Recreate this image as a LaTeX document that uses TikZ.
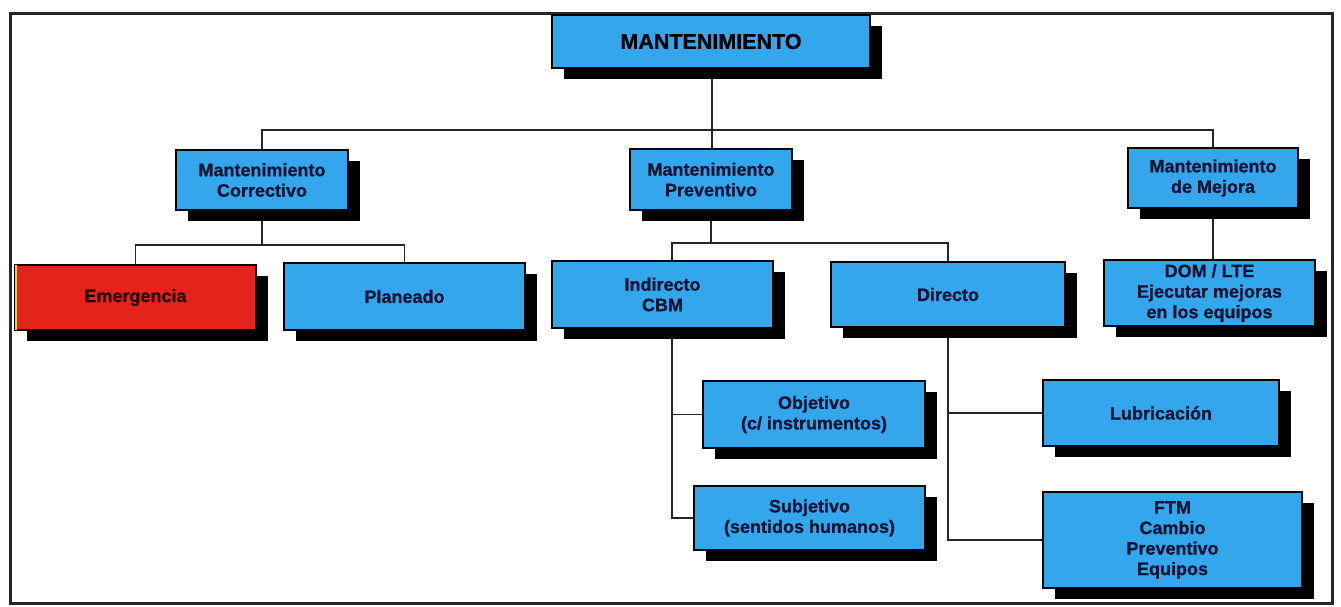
\documentclass[tikz,border=0pt]{standalone}
\usepackage{fontspec}
\setmainfont{Liberation Sans}[BoldFeatures={FakeBold=0.8}]
\usetikzlibrary{shadows,backgrounds}
\definecolor{boxblue}{RGB}{52,166,236}
\definecolor{boxred}{RGB}{228,36,26}
\definecolor{ink}{RGB}{20,20,52}
\definecolor{edgeyellow}{RGB}{240,210,40}
\tikzset{
  card/.style={draw=black, line width=1.6pt, fill=boxblue, inner sep=0pt,
    align=center, text=ink, font=\bfseries\fontsize{18}{20.5}\selectfont,
    general shadow={fill=black, shadow xshift=12pt, shadow yshift=-11pt}},
  link/.style={draw=black!85, line width=1.3pt},
  frame/.style={draw=black!85, line width=3pt}
}
\begin{document}
\begin{tikzpicture}[x=1pt, y=-1pt]
\useasboundingbox (0,0) rectangle (1341,606);
\draw[frame] (10,13) rectangle (1332,603);

% level 0
\node[card, minimum width=318pt, minimum height=53pt, text=black,
      font=\bfseries\fontsize{21.5}{24}\selectfont] (man) at (711,41.5) {MANTENIMIENTO};

% level 1
\node[card, minimum width=172pt, minimum height=60pt] (cor) at (262,180) {Mantenimiento\\Correctivo};
\node[card, minimum width=162pt, minimum height=61pt] (pre) at (711,179.5) {Mantenimiento\\Preventivo};
\node[card, minimum width=170pt, minimum height=60pt] (mej) at (1213,178) {Mantenimiento\\de Mejora};

% level 2
\node[card, fill=boxred, text=black!85!red, minimum width=241pt, minimum height=65pt] (eme) at (135.5,297.5) {Emergencia};
\draw[edgeyellow, line width=1.4pt] ([xshift=1.6pt,yshift=-1pt]eme.north west) -- ([xshift=1.6pt,yshift=1pt]eme.south west);
\node[card, minimum width=241pt, minimum height=67pt] (pla) at (404.5,296.5) {Planeado};
\node[card, minimum width=221pt, minimum height=67pt] (ind) at (662.5,294.5) {Indirecto\\CBM};
\node[card, minimum width=234pt, minimum height=65pt] (dir) at (948,294.5) {Directo};
\node[card, minimum width=211pt, minimum height=66pt] (dom) at (1209.5,293) {DOM / LTE\\Ejecutar mejoras\\en los equipos};

% level 3
\node[card, minimum width=222pt, minimum height=67pt] (obj) at (814,414.5) {Objetivo\\(c/ instrumentos)};
\node[card, minimum width=231pt, minimum height=64pt] (sub) at (809.5,518) {Subjetivo\\(sentidos humanos)};
\node[card, minimum width=236pt, minimum height=66pt] (lub) at (1161,413) {Lubricación};
\node[card, minimum width=259pt, minimum height=96pt] (ftm) at (1172.5,540) {FTM\\Cambio\\Preventivo\\Equipos};

% connectors, kept behind the cards and their shadows
\begin{scope}[on background layer]
  \coordinate (hub) at ([xshift=1pt]man.south);
  \draw[link] (hub) -- (hub |- 0,130) -| (cor.north);
  \draw[link] (hub |- 0,130) -| (mej.north);
  \draw[link] (hub) -- (hub |- pre.north);
  \draw[link] (cor.south) -- (cor.south |- 0,245) -| (eme.north);
  \draw[link] (cor.south |- 0,245) -| (pla.north);
  \draw[link] (pre.south) -- (pre.south |- 0,243) -| ([xshift=9.5pt]ind.north);
  \draw[link] (pre.south |- 0,243) -| (dir.north);
  \draw[link] (mej.south) -- (mej.south |- dom.north);
  \draw[link] ([xshift=9.5pt]ind.south) |- (obj.west);
  \draw[link] ([xshift=9.5pt]ind.south) |- (sub.west);
  \draw[link] (dir.south) |- (lub.west);
  \draw[link] (dir.south) |- (ftm.west);
\end{scope}
\end{tikzpicture}
\end{document}
